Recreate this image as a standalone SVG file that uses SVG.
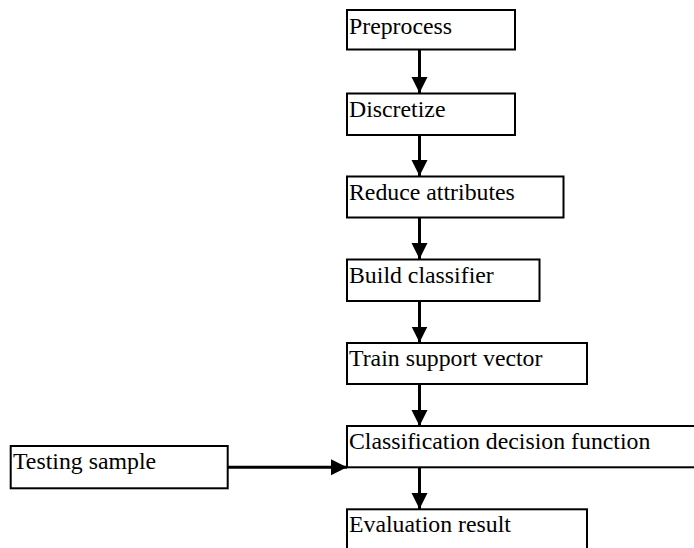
<svg xmlns="http://www.w3.org/2000/svg" width="694" height="548" viewBox="0 0 694 548">
<style>
.box{fill:#fff;stroke:#000;stroke-width:2}
.lbl{font-family:'Liberation Serif','Times New Roman',serif;font-size:23.8px;fill:#000}
.con{stroke:#000;stroke-width:3;fill:none}
</style>
<defs>
<marker id="ah" markerUnits="userSpaceOnUse" markerWidth="17" markerHeight="17" refX="16" refY="8" orient="auto">
<path d="M0,0 L16,8 L0,16 Z" fill="#000"/>
</marker>
</defs>
<rect width="694" height="548" fill="#fff"/>
<g id="connectors">
<line class="con" x1="419.5" y1="49.5" x2="419.5" y2="93" marker-end="url(#ah)"/>
<line class="con" x1="419.5" y1="135" x2="419.5" y2="176" marker-end="url(#ah)"/>
<line class="con" x1="419.5" y1="218" x2="419.5" y2="259" marker-end="url(#ah)"/>
<line class="con" x1="419.5" y1="301" x2="419.5" y2="342.5" marker-end="url(#ah)"/>
<line class="con" x1="419.5" y1="384" x2="419.5" y2="426" marker-end="url(#ah)"/>
<line class="con" x1="419.5" y1="467.5" x2="419.5" y2="509" marker-end="url(#ah)"/>
<line class="con" x1="228" y1="467.3" x2="347" y2="467.3" marker-end="url(#ah)"/>
</g>
<g id="preprocess"><rect class="box" x="347" y="10" width="168" height="39.5"/><text class="lbl" x="349" y="33.5">Preprocess</text></g>
<g id="discretize"><rect class="box" x="347" y="93.5" width="168" height="41.5"/><text class="lbl" x="349" y="116.5">Discretize</text></g>
<g id="reduce"><rect class="box" x="347" y="176.5" width="216.5" height="41"/><text class="lbl" x="349" y="199.5">Reduce attributes</text></g>
<g id="build"><rect class="box" x="347" y="259.5" width="192.5" height="41.5"/><text class="lbl" x="349" y="282.5">Build classifier</text></g>
<g id="train"><rect class="box" x="347" y="343" width="240" height="41"/><text class="lbl" x="349" y="366">Train support vector</text></g>
<g id="classification"><rect class="box" x="347" y="426" width="360" height="41.3"/><text class="lbl" x="349" y="449">Classification decision function</text></g>
<g id="evaluation"><rect class="box" x="347" y="509.3" width="240" height="50"/><text class="lbl" x="349" y="532.3">Evaluation result</text></g>
<g id="testing"><rect class="box" x="10.7" y="446" width="217" height="42.3"/><text class="lbl" x="13" y="469">Testing sample</text></g>
</svg>
